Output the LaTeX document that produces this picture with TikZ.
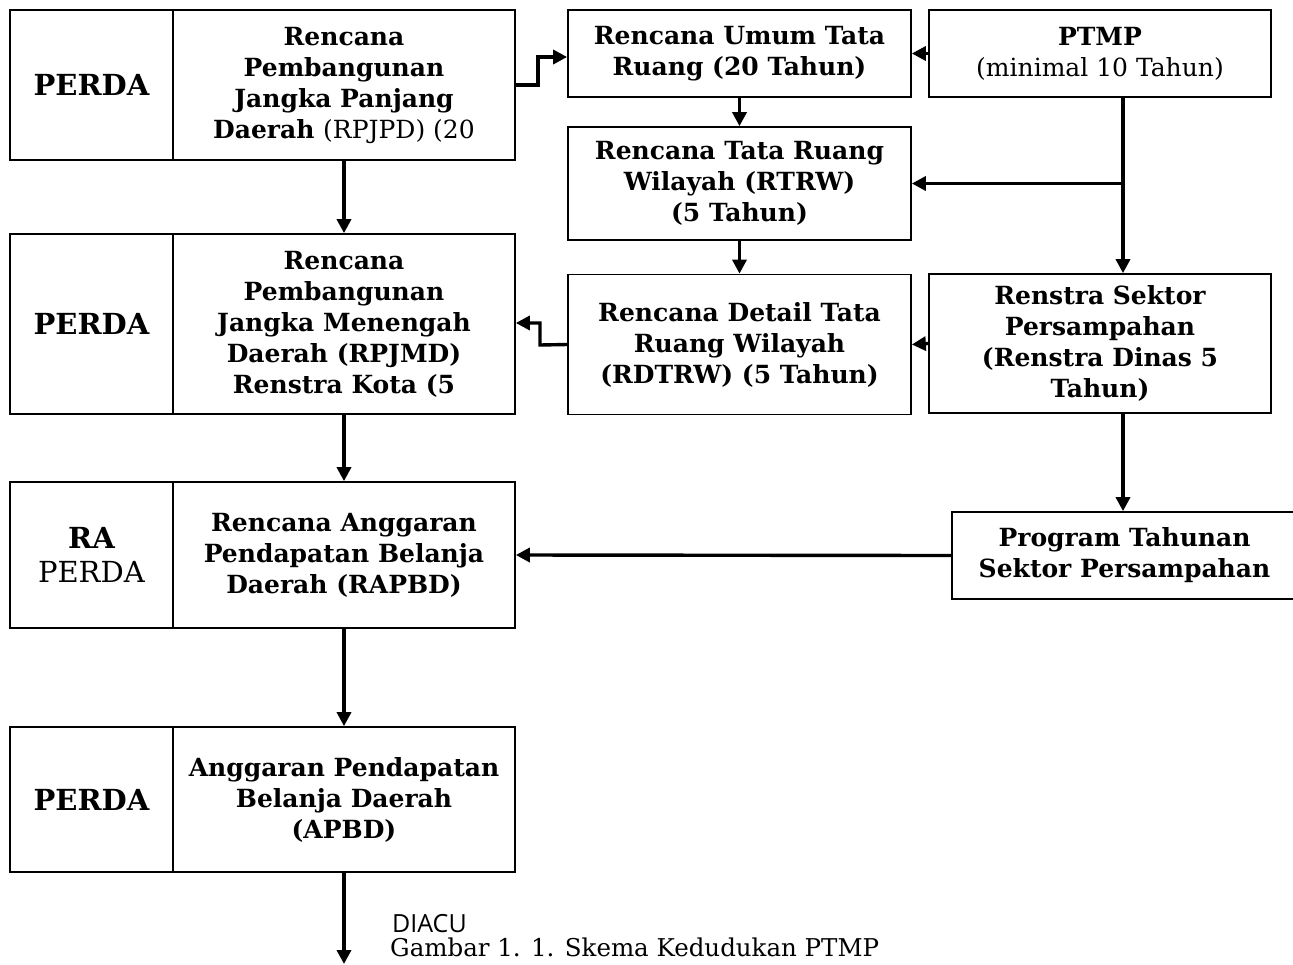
\documentclass[tikz,border=0pt]{standalone}
\usepackage{fontspec}
\setmainfont{DejaVu Serif}
\newfontfamily\capsans{Open Sans}
\usetikzlibrary{arrows.meta}
\tikzset{
  bx/.style={draw, line width=1.7pt, inner sep=0pt, align=center,
    font=\fontsize{25}{31}\selectfont\bfseries},
  lbx/.style={bx, minimum width=163pt, font=\fontsize{29}{34}\selectfont\bfseries},
  rbx/.style={bx, minimum width=342pt},
  arr/.style={line width=3.4pt, -{Triangle[length=14pt,width=14pt]}},
  ln/.style={line width=3.4pt}
}
\begin{document}
\begin{tikzpicture}[x=1pt,y=-1pt]
\useasboundingbox (0,0) rectangle (1293,964);
% left column
\node[lbx, minimum height=150pt] (perdaA) at (91.5,85) {PERDA};
\node[rbx, minimum height=150pt] (rpjpd) at (344,85) {Rencana\\Pembangunan\\Jangka Panjang\\Daerah \textmd{(RPJPD) (20}};
\node[lbx, minimum height=180pt] (perdaE) at (91.5,324) {PERDA};
\node[rbx, minimum height=180pt] (rpjmd) at (344,324) {Rencana\\Pembangunan\\Jangka Menengah\\Daerah (RPJMD)\\Renstra Kota (5};
\node[lbx, minimum height=146pt] (raperda) at (91.5,555) {RA\\\textmd{PERDA}};
\node[rbx, minimum height=146pt] (rapbd) at (344,555) {Rencana Anggaran\\Pendapatan Belanja\\Daerah (RAPBD)};
\node[lbx, minimum height=145pt] (perdaJ) at (91.5,799.5) {PERDA};
\node[rbx, minimum height=145pt] (apbd) at (344,799.5) {Anggaran Pendapatan\\Belanja Daerah\\(APBD)};
% middle column
\node[rbx, minimum width=343pt, minimum height=87pt] (rumum) at (739.5,53.5) {Rencana Umum Tata\\Ruang (20 Tahun)};
\node[rbx, minimum width=343pt, minimum height=113pt] (rtrw) at (739.5,183.5) {Rencana Tata Ruang\\Wilayah (RTRW)\\(5 Tahun)};
\node[rbx, minimum width=343pt, minimum height=140pt] (rdtrw) at (739.5,344.5) {Rencana Detail Tata\\Ruang Wilayah\\(RDTRW) (5 Tahun)};
% right column
\node[rbx, minimum height=87pt] (ptmp) at (1100,53.5) {PTMP\\\textmd{(minimal 10 Tahun)}};
\node[rbx, minimum height=139pt] (renstra) at (1100,343.5) {Renstra Sektor\\Persampahan\\(Renstra Dinas 5\\Tahun)};
\node[rbx, minimum width=345pt, minimum height=87pt] (prog) at (1124.5,555.5) {Program Tahunan\\Sektor Persampahan};
% caption
\node[anchor=base west, inner sep=0pt, font=\capsans\fontsize{25}{26}\selectfont] (diacu) at (392,932) {DIACU};
\node[anchor=base west, inner sep=0pt, font=\fontsize{24.5}{26}\selectfont] (gambar) at (390,956) {Gambar 1. 1. Skema Kedudukan PTMP};
% coordinates
\coordinate (jA1) at (538,85);
\coordinate (jA2) at (538,57);
\coordinate (jF1) at (540,345);
\coordinate (jF2) at (540,323);
\coordinate (pbr) at (1123,183.5);
\coordinate (pend) at (344,964);
% connectors
\draw[arr] (rpjpd.south) -- (rpjmd.north);
\draw[arr] (rpjmd.south) -- (rapbd.north);
\draw[arr] (rapbd.south) -- (apbd.north);
\draw[arr] (apbd.south) -- (pend);
\draw[arr] (rpjpd.east) -- (jA1) -- (jA2) -- (jA2 -| rumum.west);
\draw[arr] (ptmp.west) -- (rumum.east);
\draw[arr] (rumum.south) -- (rtrw.north);
\draw[arr] (rtrw.south) -- (rdtrw.north);
\draw[arr] (ptmp.south -| pbr) -- (renstra.north -| pbr);
\draw[arr] (pbr) -- (rtrw.east);
\draw[arr] (renstra.west) -- (rdtrw.east);
\draw[arr] (rdtrw.west) -- (jF1) -- (jF2) -- (jF2 -| rpjmd.east);
\draw[arr] (renstra.south -| pbr) -- (prog.north -| pbr);
\draw[arr] (prog.west) -- (rapbd.east);
\end{tikzpicture}
\end{document}
